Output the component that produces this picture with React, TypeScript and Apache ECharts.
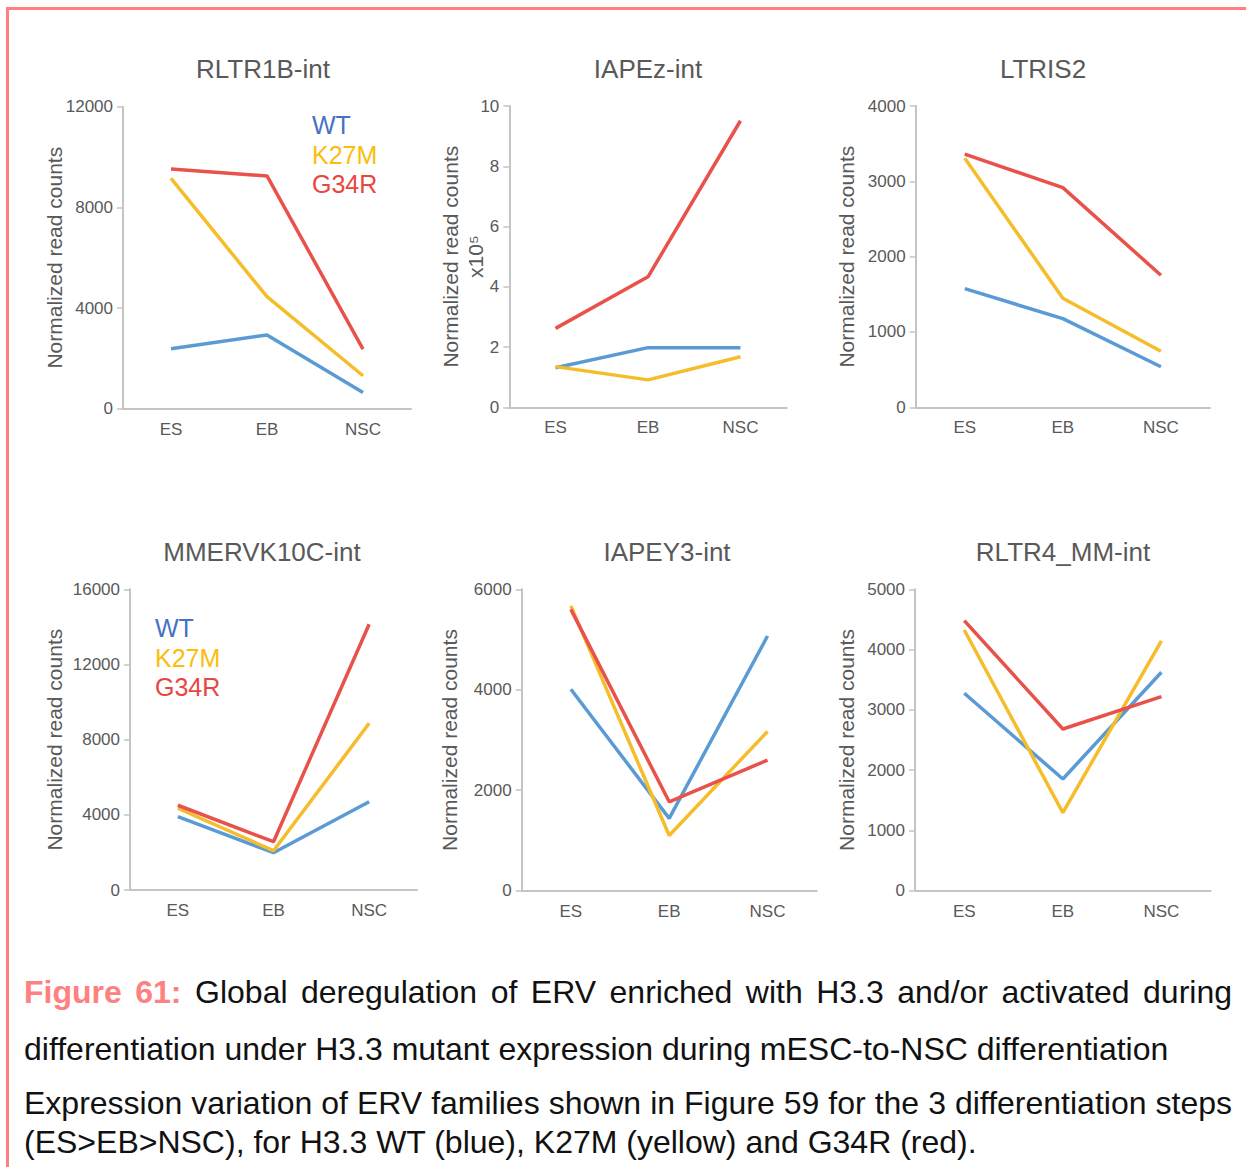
import React, { useEffect, useRef } from "react";
import * as echarts from "echarts";

// ---- Data ----
const stages = ["ES", "EB", "NSC"];
const panelTitles = ["RLTR1B-int", "IAPEz-int", "LTRIS2", "MMERVK10C-int", "IAPEY3-int", "RLTR4_MM-int"];
const seriesNames = ["WT", "K27M", "G34R"];

const rltr1bWT = [2380, 2930, 640];
const rltr1bK27M = [9150, 4450, 1310];
const rltr1bG34R = [9520, 9250, 2370];

const iapezWT = [1.31, 1.98, 1.98];
const iapezK27M = [1.35, 0.91, 1.68];
const iapezG34R = [2.62, 4.33, 9.51];

const ltris2WT = [1575, 1177, 539];
const ltris2K27M = [3307, 1448, 744];
const ltris2G34R = [3360, 2916, 1753];

const mmervkWT = [3900, 1985, 4700];
const mmervkK27M = [4350, 2090, 8870];
const mmervkG34R = [4510, 2570, 14140];

const iapey3WT = [4010, 1440, 5070];
const iapey3K27M = [5670, 1100, 3170];
const iapey3G34R = [5600, 1770, 2600];

const rltr4WT = [3275, 1853, 3623];
const rltr4K27M = [4325, 1294, 4143];
const rltr4G34R = [4480, 2683, 3219];

const panelData = [
  [rltr1bWT, rltr1bK27M, rltr1bG34R],
  [iapezWT, iapezK27M, iapezG34R],
  [ltris2WT, ltris2K27M, ltris2G34R],
  [mmervkWT, mmervkK27M, mmervkG34R],
  [iapey3WT, iapey3K27M, iapey3G34R],
  [rltr4WT, rltr4K27M, rltr4G34R],
];
const yMax = [12000, 10, 4000, 16000, 6000, 5000];
const yInterval = [4000, 2, 1000, 4000, 2000, 1000];
const yNames = [
  "Normalized read counts",
  "Normalized read counts\nx10⁵",
  "Normalized read counts",
  "Normalized read counts",
  "Normalized read counts",
  "Normalized read counts",
];

const captionLines = [
  "Global deregulation of ERV enriched with H3.3 and/or activated during",
  "differentiation under H3.3 mutant expression during mESC-to-NSC differentiation",
  "Expression variation of ERV families shown in Figure 59 for the 3 differentiation steps",
  "(ES>EB>NSC), for H3.3 WT (blue), K27M (yellow) and G34R (red).",
];

// ---- Layout / style ----
const lineColors = ["#5b9bd5", "#f6bd2b", "#e9524b"];
const legendColors = ["#4472c4", "#fbbd0a", "#e8463f"];
const grids = [
  { left: 123, top: 106.7, width: 288, height: 302 },
  { left: 509.3, top: 106, width: 277.4, height: 301.3 },
  { left: 915.7, top: 106, width: 294.3, height: 301.3 },
  { left: 130, top: 589.3, width: 287, height: 300.7 },
  { left: 521.7, top: 589.3, width: 295, height: 301.4 },
  { left: 915, top: 589.3, width: 295.7, height: 301.4 },
];
const nameGaps = [56, 21, 57, 63, 60, 56];
const titlePos = [
  [263, 69], [648, 69], [1043, 69],
  [262, 552], [667, 552], [1063, 552],
];
const legendPos = [
  [312, 125], [155, 628],
];
const FONT = "'Liberation Sans', Arial, sans-serif";
const GREY = "#595959";

export default function App() {
  const ref = useRef<HTMLDivElement>(null);
  useEffect(() => {
    if (!ref.current) return;
    const chart = echarts.init(ref.current, null, { renderer: "svg" });

    const xAxis = grids.map((_, i) => ({
      type: "category",
      gridIndex: i,
      data: stages,
      boundaryGap: true,
      axisLine: { show: true, lineStyle: { color: "#c4c4c4", width: 2 } },
      axisTick: { show: false },
      axisLabel: { color: GREY, fontSize: 17, fontFamily: FONT, margin: 12 },
      splitLine: { show: false },
    }));
    const yAxis = grids.map((_, i) => ({
      type: "value",
      gridIndex: i,
      min: 0,
      max: yMax[i],
      interval: yInterval[i],
      name: yNames[i],
      nameLocation: "middle",
      nameRotate: 90,
      nameGap: nameGaps[i],
      nameMoveOverlap: false,
      nameTextStyle: { color: GREY, fontSize: 21, fontFamily: FONT, lineHeight: 25 },
      axisLine: { show: true, lineStyle: { color: "#c4c4c4", width: 2 } },
      axisTick: { show: true, length: 6, lineStyle: { color: "#c4c4c4", width: 1.5 } },
      axisLabel: {
        color: GREY,
        fontSize: 17,
        fontFamily: FONT,
        margin: 10,
        formatter: (v: number) => String(v),
      },
      splitLine: { show: false },
    }));
    const series: any[] = [];
    panelData.forEach((panel, i) => {
      panel.forEach((vals, s) => {
        series.push({
          type: "line",
          name: seriesNames[s],
          xAxisIndex: i,
          yAxisIndex: i,
          data: vals,
          symbol: "none",
          lineStyle: { color: lineColors[s], width: 3.5 },
          z: 2 + s,
        });
      });
    });

    const graphics: any[] = [];
    panelTitles.forEach((t, i) => {
      graphics.push({
        type: "text",
        x: titlePos[i][0],
        y: titlePos[i][1],
        style: {
          text: t,
          fill: GREY,
          fontSize: 26,
          fontFamily: FONT,
          textAlign: "center",
          textVerticalAlign: "middle",
        },
      });
    });
    legendPos.forEach(([lx, ly]) => {
      seriesNames.forEach((n, s) => {
        graphics.push({
          type: "text",
          x: lx,
          y: ly + s * 29.5,
          style: {
            text: n,
            fill: legendColors[s],
            fontSize: 25,
            fontFamily: FONT,
            textAlign: "left",
            textVerticalAlign: "middle",
          },
        });
      });
    });

    chart.setOption({
      animation: false,
      backgroundColor: "#ffffff",
      grid: grids.map((g) => ({ ...g, containLabel: false })),
      xAxis,
      yAxis,
      series,
      graphic: graphics,
    });
    return () => chart.dispose();
  }, []);

  const captionStyle: React.CSSProperties = {
    position: "absolute",
    left: 24,
    width: 1208,
    fontFamily: FONT,
    fontSize: 32,
    lineHeight: "32px",
    color: "#111111",
    whiteSpace: "nowrap",
  };
  const justify: React.CSSProperties = {
    whiteSpace: "normal",
    textAlign: "justify",
    textAlignLast: "justify" as any,
  };

  return (
    <div
      style={{
        position: "absolute",
        left: 0,
        top: 0,
        width: 1246,
        height: 1167,
        overflow: "hidden",
        background: "#ffffff",
      }}
    >
      <div ref={ref} style={{ position: "absolute", left: 0, top: 0, width: 1246, height: 960 }} />
      <div
        style={{
          position: "absolute",
          left: 6,
          top: 7,
          width: 1400,
          height: 1400,
          borderLeft: "3px solid #ff8080",
          borderTop: "3px solid #ff8080",
          pointerEvents: "none",
        }}
      />
      <div style={{ ...captionStyle, ...justify, top: 976 }}>
        <span style={{ color: "#ff8080", fontWeight: "bold" }}>Figure 61:</span> {captionLines[0]}
      </div>
      <div style={{ ...captionStyle, top: 1033 }}>{captionLines[1]}</div>
      <div style={{ ...captionStyle, ...justify, top: 1087 }}>{captionLines[2]}</div>
      <div style={{ ...captionStyle, top: 1126 }}>{captionLines[3]}</div>
    </div>
  );
}
